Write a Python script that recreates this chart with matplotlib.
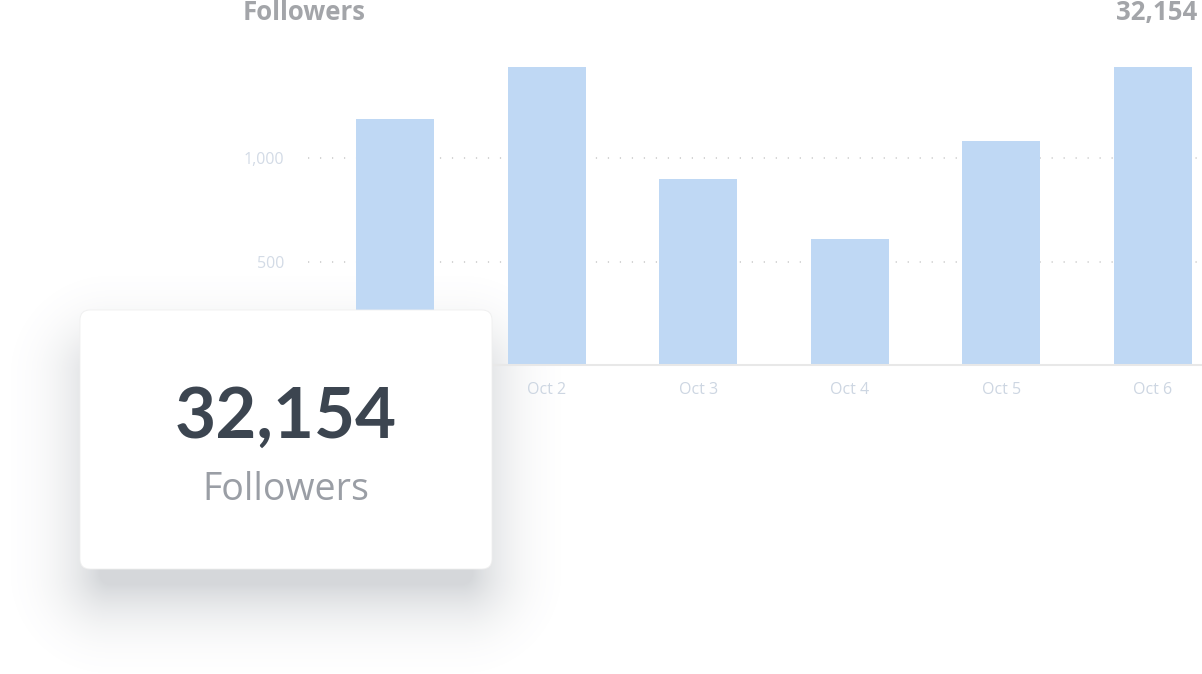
import numpy as np
import matplotlib
matplotlib.use('Agg')
import matplotlib.pyplot as plt
from matplotlib.patches import FancyBboxPatch

W, H = 1202, 674

days = ['Oct 1', 'Oct 2', 'Oct 3', 'Oct 4', 'Oct 5', 'Oct 6']
followers = [1190, 1440, 900, 610, 1080, 1440]
yticks = [500, 1000]
ytick_labels = ['500', '1,000']
total_label = '32,154'
title = 'Followers'

plt.rcParams['font.family'] = ['Lato', 'Open Sans', 'DejaVu Sans']

fig = plt.figure(figsize=(W / 100, H / 100), dpi=100)
fig.patch.set_facecolor('white')


def px(x0, y0, x1, y1):
    # pixel box (top-left origin) -> figure fraction rect
    return [x0 / W, 1 - y1 / H, (x1 - x0) / W, (y1 - y0) / H]


cx0, cy0, cx1, cy1 = 80, 310, 492, 569
rad = 10

# background layer: soft shadow of the card (sits under the bars)
bg = fig.add_axes([0, 0, 1, 1], zorder=0)
bg.set_xlim(0, W)
bg.set_ylim(H, 0)
bg.axis('off')
yy, xx = np.mgrid[0:H, 0:W] + 0.5
scx, scy = (cx0 + cx1) / 2, (cy0 + cy1) / 2 + 35
hw, hh = (cx1 - cx0) / 2 - 20, (cy1 - cy0) / 2 - 20
qx = np.abs(xx - scx) - (hw - rad)
qy = np.abs(yy - scy) - (hh - rad)
dist = np.hypot(np.maximum(qx, 0), np.maximum(qy, 0)) + np.minimum(np.maximum(qx, qy), 0) - rad
t = np.clip(dist / 110, 0, 1)
alpha = 0.3 * (1 - t) ** 2.6
shadow = np.zeros((H, W, 4))
shadow[..., 0] = 0.45
shadow[..., 1] = 0.48
shadow[..., 2] = 0.52
shadow[..., 3] = alpha
bg.imshow(shadow, extent=(0, W, H, 0), interpolation='bilinear')

# chart area
ax = fig.add_axes(px(308, 50.4, 1202, 365), zorder=1)
x = np.arange(len(days))
ax.bar(x, followers, width=0.515, color='#bfd8f4', zorder=2)
ax.set_xlim(-0.574, 5.323)
ax.set_ylim(0, 1520)
ax.set_yticks(yticks)
ax.set_yticklabels(ytick_labels)
ax.set_xticks(x)
ax.set_xticklabels(days)
ax.tick_params(axis='y', length=0, pad=17, labelsize=11.5, labelcolor='#d3dbe6')
ax.tick_params(axis='x', length=0, pad=12, labelsize=11.5, labelcolor='#cdd6e2')
for lab in ax.get_yticklabels() + ax.get_xticklabels():
    lab.set_family(['Open Sans', 'DejaVu Sans'])
# first day's label sits under the card in the original
ax.get_xticklabels()[0].set_visible(False)
ax.set_axisbelow(True)
ax.yaxis.grid(True, linestyle=(0, (0.8, 7.05)), color='#c9c9c9', linewidth=1.1)
for s in ['top', 'left', 'right']:
    ax.spines[s].set_visible(False)
ax.spines['bottom'].set_color('#e8e8e8')
ax.spines['bottom'].set_linewidth(1.5)
ax.patch.set_alpha(0)

fig.text(243 / W, 1 - 20 / H, title, fontsize=18.5, fontweight='bold',
         family=['Open Sans', 'DejaVu Sans'], color='#a3a5a9', ha='left', va='baseline')
fig.text(1197 / W, 1 - 20 / H, total_label, fontsize=18.5, fontweight='bold',
         family=['Open Sans', 'DejaVu Sans'], color='#a3a5a9', ha='right', va='baseline')

# card on top
ov = fig.add_axes([0, 0, 1, 1], zorder=5)
ov.set_xlim(0, W)
ov.set_ylim(H, 0)
ov.axis('off')
ov.patch.set_alpha(0)
card = FancyBboxPatch((cx0, cy0), cx1 - cx0, cy1 - cy0,
                      boxstyle='round,pad=0,rounding_size=%d' % rad,
                      facecolor='white', edgecolor='#efefef', linewidth=0.6, zorder=2)
ov.add_patch(card)
ov.text((cx0 + cx1) / 2, 438, total_label, fontsize=51, fontweight='bold',
        color='#3c4550', ha='center', va='baseline', zorder=3)
ov.text((cx0 + cx1) / 2, 500, title, fontsize=27, fontweight='normal',
        family=['Open Sans', 'DejaVu Sans'], color='#9a9ea5', ha='center', va='baseline', zorder=3)

fig.savefig('out.png', dpi=100, facecolor='white')
